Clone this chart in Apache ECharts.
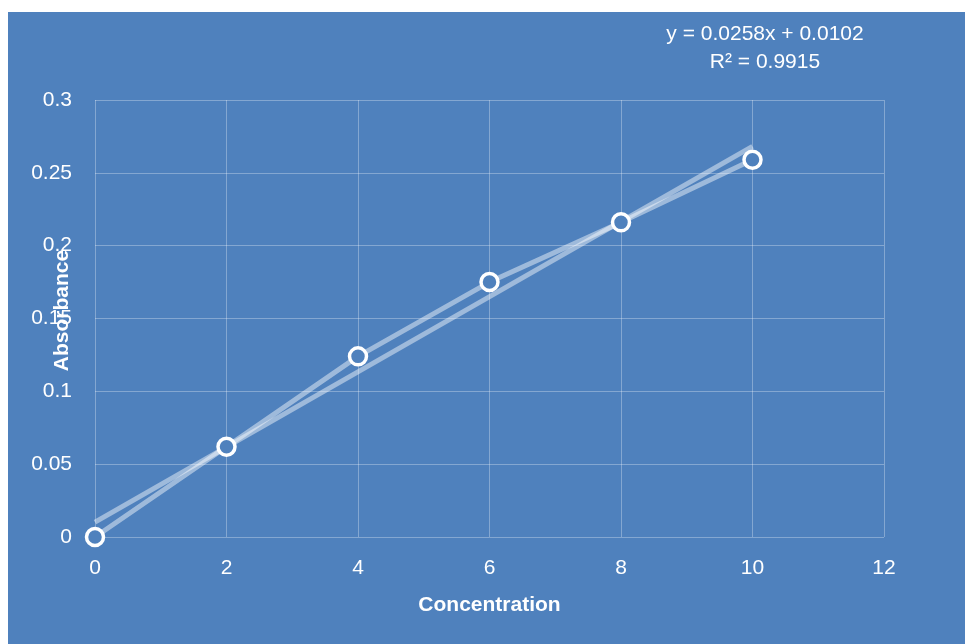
<!DOCTYPE html>
<html><head><meta charset="utf-8">
<script src="https://cdn.jsdelivr.net/npm/echarts@6/dist/echarts.min.js"></script>
<style>html,body{margin:0;padding:0;background:#fff}#c{width:965px;height:644px}</style>
</head><body><div id="c"></div>
<script>
const concentration = [0, 2, 4, 6, 8, 10];
const absorbance = [0, 0.062, 0.124, 0.175, 0.216, 0.259];
const slope = 0.0258, intercept = 0.0102;
const equationText = 'y = 0.0258x + 0.0102';
const r2Text = 'R² = 0.9915';
const trendX = [0, 10];

const FONT = 'Liberation Sans';
const chart = echarts.init(document.getElementById('c'), null, {renderer: 'canvas'});
const pts = concentration.map((x, i) => [x, absorbance[i]]);
const trend = trendX.map(x => [x, slope * x + intercept]);
const gridColor = 'rgba(255,255,255,0.3)';
chart.setOption({
  animation: false,
  backgroundColor: '#fff',
  graphic: [
    {type: 'rect', z: -10, shape: {x: 8, y: 12, width: 957, height: 632}, style: {fill: '#4F81BD'}},
    {type: 'text', x: 765, y: 20, z: 10, style: {text: equationText + '\n' + r2Text, fill: '#fff', font: '21px "' + FONT + '"', align: 'center', verticalAlign: 'top', lineHeight: 28}}
  ],
  grid: {left: 95, right: 81, top: 100, bottom: 107, show: false},
  xAxis: {
    type: 'value', min: 0, max: 12, interval: 2,
    name: 'Concentration', nameLocation: 'middle', nameGap: 58, nameMoveOverlap: false,
    nameTextStyle: {color: '#fff', fontWeight: 'bold', fontSize: 21, fontFamily: FONT},
    axisLine: {show: false}, axisTick: {show: false},
    axisLabel: {color: '#fff', fontSize: 21, fontFamily: FONT, margin: 21},
    splitLine: {show: true, lineStyle: {color: gridColor, width: 1}}
  },
  yAxis: {
    type: 'value', min: 0, max: 0.3, interval: 0.05,
    name: 'Absorbance', nameLocation: 'middle', nameGap: 22, nameMoveOverlap: false,
    nameTextStyle: {color: '#fff', fontWeight: 'bold', fontSize: 21, fontFamily: FONT, padding: [0, 0, 0, 16]},
    axisLine: {show: false}, axisTick: {show: false},
    axisLabel: {color: '#fff', fontSize: 21, fontFamily: FONT, margin: 23},
    splitLine: {show: true, lineStyle: {color: gridColor, width: 1}}
  },
  series: [
    {type: 'line', data: trend, symbol: 'none', z: 2,
     lineStyle: {color: 'rgba(255,255,255,0.45)', width: 5}},
    {type: 'line', data: pts, symbol: 'circle', symbolSize: 17, z: 3,
     lineStyle: {color: 'rgba(255,255,255,0.45)', width: 5},
     itemStyle: {color: '#4F81BD', borderColor: '#fff', borderWidth: 3.5}}
  ]
});
</script></body></html>
